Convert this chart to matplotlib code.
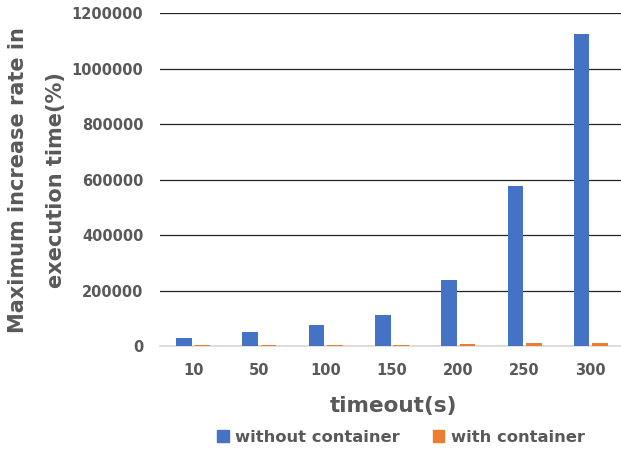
import numpy as np
import matplotlib
matplotlib.use("Agg")
import matplotlib.pyplot as plt
import matplotlib.ticker as mticker
from matplotlib.patches import Patch

# timeout settings and measured max increase rate (%)
timeouts = ["10", "50", "100", "150", "200", "250", "300"]
without_container = [27600, 49500, 75500, 113500, 239000, 577000, 1124000]
with_container = [3500, 3500, 3500, 4000, 7000, 10000, 10000]

blue = "#4472C4"
orange = "#ED7D31"
grey_text = "#595959"

plt.rcParams["font.family"] = ["DejaVu Sans"]
plt.rcParams["font.weight"] = "bold"

fig = plt.figure(figsize=(6.21, 4.49), dpi=100)
ax = fig.add_axes([160 / 621, 1 - 346 / 449, 464 / 621, (346 - 13.3) / 449])

x = np.arange(len(timeouts))
w = 0.235
ax.bar(x - 0.14, without_container, w, color=blue, zorder=5)
ax.bar(x + 0.14, with_container, w, color=orange, zorder=5)

ax.set_xlim(-0.5, len(timeouts) - 0.5)
ax.set_ylim(0, 1200000)
ax.set_yticks(np.arange(0, 1200001, 200000))
ax.yaxis.set_major_formatter(mticker.StrMethodFormatter("{x:.0f}"))
ax.set_xticks(x)
ax.set_xticklabels(timeouts)
ax.tick_params(axis="both", length=0, labelsize=10.5, labelcolor=grey_text)
ax.tick_params(axis="x", pad=12)
ax.tick_params(axis="y", pad=12)

ax.grid(axis="y", color="#262626", linewidth=0.9, zorder=0)
ax.set_axisbelow(True)
for s in ["top", "right", "left"]:
    ax.spines[s].set_visible(False)
ax.spines["bottom"].set_color("#D9D9D9")
ax.spines["bottom"].set_linewidth(1.2)
ax.spines["bottom"].set_zorder(4)

fig.text(18 / 621, 1 - 180 / 449, "Maximum increase rate in", rotation=90,
         ha="center", va="center", fontsize=15, color=grey_text, fontweight="bold")
fig.text(56 / 621, 1 - 180 / 449, "execution time(%)", rotation=90,
         ha="center", va="center", fontsize=15, color=grey_text, fontweight="bold")
fig.text(393 / 621, 1 - 406 / 449, "timeout(s)", ha="center", va="center",
         fontsize=15.5, color=grey_text, fontweight="bold")

handles = [Patch(color=blue), Patch(color=orange)]
fig.legend(handles, ["without container", "with container"], ncol=2,
           loc="center", bbox_to_anchor=(401 / 621, 1 - 437 / 449), frameon=False,
           fontsize=11.8, labelcolor=grey_text, handlelength=0.7, handleheight=0.7,
           handletextpad=0.4, columnspacing=2.0)

fig.savefig("out.png", dpi=100)
